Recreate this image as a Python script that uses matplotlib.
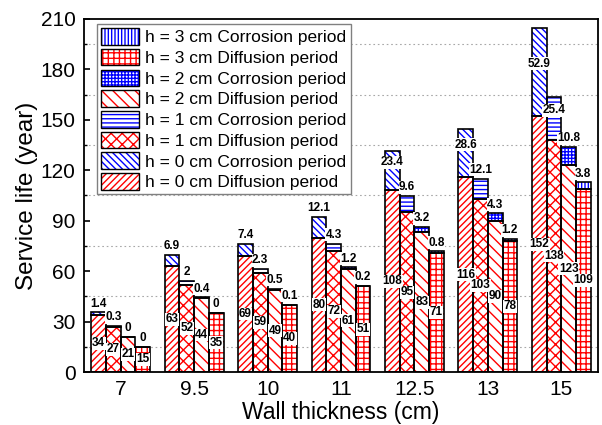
import matplotlib
matplotlib.use("Agg")
import matplotlib.pyplot as plt
import numpy as np
from matplotlib.patches import Patch
from matplotlib.legend_handler import HandlerTuple
from matplotlib.ticker import MultipleLocator

plt.rcParams['font.family'] = ['Liberation Sans', 'DejaVu Sans']
plt.rcParams['hatch.linewidth'] = 1.0

categories = ['7', '9.5', '10', '11', '12.5', '13', '15']
heights = ['0', '1', '2', '3']

diffusion_h0 = [34, 63, 69, 80, 108, 116, 152]
diffusion_h1 = [27, 52, 59, 72, 95, 103, 138]
diffusion_h2 = [21, 44, 49, 61, 83, 90, 123]
diffusion_h3 = [15, 35, 40, 51, 71, 78, 109]

corrosion_h0 = [1.4, 6.9, 7.4, 12.1, 23.4, 28.6, 52.9]
corrosion_h1 = [0.3, 2, 2.3, 4.3, 9.6, 12.1, 25.4]
corrosion_h2 = [0, 0.4, 0.5, 1.2, 3.2, 4.3, 10.8]
corrosion_h3 = [0, 0, 0.1, 0.2, 0.8, 1.2, 3.8]

diffusion = [diffusion_h0, diffusion_h1, diffusion_h2, diffusion_h3]
corrosion = [corrosion_h0, corrosion_h1, corrosion_h2, corrosion_h3]

diff_hatch = ['/////', 'xxx', '\\\\\\', '+++']
corr_hatch = ['\\\\\\\\\\', '----', '+++++', '|||||']
RED = '#ff0000'
BLUE = '#0000ff'

fig = plt.figure(figsize=(6.02, 4.25), dpi=100)
ax = fig.add_axes([84/602, 53/425, 514/602, 353/425])

x = np.arange(len(categories))
w = 0.2
offsets = [-1.5*w, -0.5*w, 0.5*w, 1.5*w]
LFS = 8.5

legend_handles = []
legend_labels = []
for i in range(4):
    xi = x + offsets[i]
    d = np.array(diffusion[i], dtype=float)
    c = np.array(corrosion[i], dtype=float)
    # diffusion
    ax.bar(xi, d, w, color='white', edgecolor=RED, hatch=diff_hatch[i], linewidth=0, zorder=2)
    ax.bar(xi, d, w, fill=False, edgecolor='black', linewidth=1.2, zorder=3)
    # corrosion
    ax.bar(xi, c, w, bottom=d, color='white', edgecolor=BLUE, hatch=corr_hatch[i], linewidth=0, zorder=2)
    ax.bar(xi, c, w, bottom=d, fill=False, edgecolor='black', linewidth=1.2, zorder=3)
    for j in range(len(categories)):
        ax.text(xi[j], d[j]/2, f"{d[j]:g}", ha='center', va='center', fontsize=LFS,
                fontweight='bold', zorder=5,
                bbox=dict(facecolor='white', edgecolor='none', pad=0.3))
        if c[j] >= 20:
            ax.text(xi[j], d[j] + c[j]/2 + 5, f"{c[j]:g}", ha='center', va='center', fontsize=LFS,
                    fontweight='bold', zorder=5,
                    bbox=dict(facecolor='white', edgecolor='none', pad=0.3))
        else:
            ax.annotate(f"{c[j]:g}", (xi[j], d[j] + c[j]), xytext=(0, 2), textcoords='offset points',
                        ha='center', va='bottom', fontsize=LFS, fontweight='bold', zorder=5,
                        bbox=dict(facecolor='white', edgecolor='none', pad=0.3))

for i in [3, 2, 1, 0]:
    hc = (Patch(facecolor='white', edgecolor=BLUE, hatch=corr_hatch[i], linewidth=0),
          Patch(fill=False, edgecolor='black', linewidth=1.0))
    hd = (Patch(facecolor='white', edgecolor=RED, hatch=diff_hatch[i], linewidth=0),
          Patch(fill=False, edgecolor='black', linewidth=1.0))
    legend_handles += [hc, hd]
    legend_labels += [f"h = {heights[i]} cm Corrosion period", f"h = {heights[i]} cm Diffusion period"]

leg = ax.legend(legend_handles, legend_labels, handler_map={tuple: HandlerTuple(ndivide=1, pad=0)},
                loc='upper left', bbox_to_anchor=(0.026, 0.985), borderaxespad=0,
                fontsize=12.5, handlelength=2.2, handleheight=1.1, handletextpad=0.35,
                labelspacing=0.2, borderpad=0.22, fancybox=False, framealpha=1,
                edgecolor='#808080')
leg.get_frame().set_linewidth(1.0)
leg.set_zorder(10)

ax.set_xlim(-0.5, 6.5)
ax.set_ylim(0, 210)
ax.set_xticks(x)
ax.set_xticklabels(categories)
ax.yaxis.set_major_locator(MultipleLocator(30))
ax.yaxis.set_minor_locator(MultipleLocator(15))
ax.tick_params(axis='y', which='major', direction='in', length=4, width=1.2, labelsize=15, pad=6)
ax.tick_params(axis='y', which='minor', direction='in', length=2.5, width=1.0)
ax.tick_params(axis='x', which='major', length=0, labelsize=15, pad=6)
for y in np.arange(15, 210, 30):
    ax.axhline(y, color='#a8a8a8', linestyle=(0, (1.5, 2.5)), linewidth=0.8, zorder=0)
for s in ax.spines.values():
    s.set_linewidth(1.3)
ax.set_xlabel('Wall thickness (cm)', fontsize=16.5, labelpad=1)
ax.set_ylabel('Service life (year)', fontsize=17.5, labelpad=2)

fig.savefig('out.png', dpi=100)
